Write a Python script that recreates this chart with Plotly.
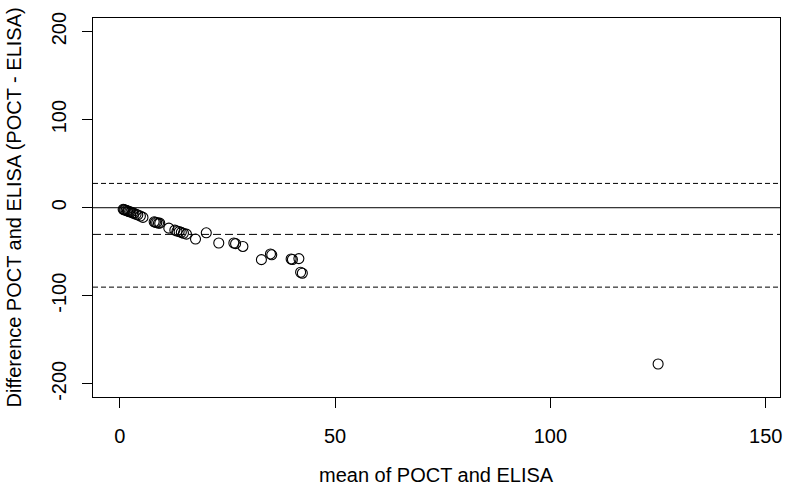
import plotly.graph_objects as go

# Bland-Altman data
mean_vals = [0.8, 1.0, 1.2, 1.5, 1.8, 2.0, 2.3, 2.6, 3.0, 3.3, 3.8, 4.2, 4.8, 5.4,
             8.0, 8.3, 8.6, 9.0, 9.3,
             11.4,
             12.8, 13.3, 13.8, 14.3, 14.8, 15.5,
             17.6, 20.1, 23.0, 26.5, 26.9, 28.6,
             32.9, 35.0, 35.3, 39.8, 40.1, 41.6, 42.0, 42.4,
             125.0]
diff_vals = [-1.8, -2.2, -2.6, -3.0, -3.6, -4.0, -4.6, -5.0, -5.8, -6.4, -7.4, -8.2, -9.4, -11.0,
             -16.0, -16.5, -17.0, -17.5, -17.5,
             -23.2,
             -25.5, -26.5, -27.2, -28.0, -29.0, -30.0,
             -35.6, -28.5, -40.1, -40.1, -40.8, -44.0,
             -59.0, -52.5, -53.5, -58.2, -58.8, -57.8, -73.3, -74.4,
             -177.5]

mean_diff = -30.3
upper_loa = 27.6
lower_loa = -90.2

x_ticks = [0, 50, 100, 150]
y_ticks = [-200, -100, 0, 100, 200]

FONT = "Liberation Sans, Arial, sans-serif"
FS = 20

fig = go.Figure()
fig.add_trace(go.Scatter(
    x=mean_vals, y=diff_vals, mode="markers",
    marker=dict(symbol="circle-open", size=10, color="black", line=dict(width=1.1, color="black")),
    showlegend=False, cliponaxis=False,
))

fig.add_hline(y=0, line=dict(color="black", width=1))
fig.add_hline(y=mean_diff, line=dict(color="black", width=1, dash="8px,4px"))
fig.add_hline(y=upper_loa, line=dict(color="black", width=1, dash="5px,3px"))
fig.add_hline(y=lower_loa, line=dict(color="black", width=1, dash="5px,3px"))

fig.update_layout(
    width=794, height=492,
    margin=dict(l=93, r=13, t=16, b=95),
    paper_bgcolor="white", plot_bgcolor="white",
    font=dict(family=FONT, size=FS, color="black"),
    showlegend=False,
    xaxis=dict(
        range=[-6.2, 153.3], tickvals=x_ticks, ticktext=[str(v) for v in x_ticks],
        showgrid=False, zeroline=False,
        showline=True, mirror=True, linecolor="black", linewidth=1,
        ticks="outside", ticklen=10, tickcolor="black", tickwidth=1,
        ticklabelstandoff=11,
        tickfont=dict(family=FONT, size=FS, color="black"),
    ),
    yaxis=dict(
        range=[-215, 215.5], tickvals=y_ticks, ticktext=[str(v) for v in y_ticks],
        showgrid=False, zeroline=False,
        showline=True, mirror=True, linecolor="black", linewidth=1,
        ticks="outside", ticklen=10, tickcolor="black", tickwidth=1,
        tickangle=-90, ticklabelstandoff=8,
        tickfont=dict(family=FONT, size=FS, color="black"),
    ),
    annotations=[
        dict(text="mean of POCT and ELISA", xref="paper", yref="paper",
             x=0.5, y=0, yshift=-78, showarrow=False,
             font=dict(family=FONT, size=FS, color="black"), xanchor="center", yanchor="middle"),
        dict(text="Difference POCT and ELISA (POCT - ELISA)", xref="paper", yref="paper",
             x=0, y=0.5, xshift=-80, showarrow=False, textangle=-90,
             font=dict(family=FONT, size=FS, color="black"), xanchor="center", yanchor="middle"),
    ],
)

fig.write_html("out.html")
